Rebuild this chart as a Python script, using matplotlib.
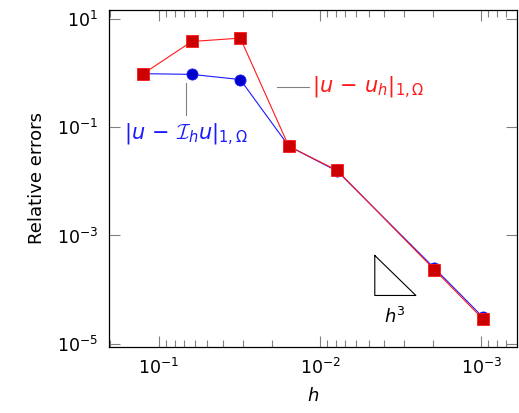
import matplotlib
matplotlib.use("Agg")
import matplotlib.pyplot as plt
from matplotlib.ticker import LogLocator, NullFormatter, FixedLocator
import numpy as np

plt.rcParams['font.family'] = ['DejaVu Sans']
plt.rcParams['mathtext.fontset'] = 'custom'
plt.rcParams['mathtext.rm'] = 'DejaVu Sans'
plt.rcParams['mathtext.it'] = 'DejaVu Sans:italic'
plt.rcParams['mathtext.bf'] = 'DejaVu Sans:bold'
plt.rcParams['mathtext.sf'] = 'DejaVu Sans'
plt.rcParams['mathtext.cal'] = 'cmsy10'

# mesh sizes and errors
h = [0.125, 0.0625, 0.03125, 0.015625, 0.0078125, 0.001953125, 0.0009765625]
err_interp = [0.99, 0.96, 0.77, 0.045, 0.0155, 2.5e-4, 3.1e-5]
err_fem = [0.99, 3.9, 4.5, 0.045, 0.016, 2.34e-4, 2.86e-5]

red_fill = '#cc0000'
red_line = '#ff1a1a'
blue_fill = '#0000cc'
blue_line = '#1a1aff'

fig = plt.figure(figsize=(5.19, 4.13), dpi=100)
ax = fig.add_axes([0.2106, 0.1598, 0.785, 0.816])

ax.plot(h, err_interp, '-o', color=blue_line, lw=0.8, ms=8,
        markerfacecolor=blue_fill, markeredgecolor=blue_line, markeredgewidth=0.6, zorder=3)
ax.plot(h, err_fem, '-s', color=red_line, lw=0.8, ms=8.5,
        markerfacecolor=red_fill, markeredgecolor=red_line, markeredgewidth=0.6, zorder=4)

ax.set_xscale('log')
ax.set_yscale('log')
ax.set_xlim(10**-0.692, 10**-3.221)
ax.set_ylim(10**-5.064, 10**1.174)

ax.yaxis.set_major_locator(FixedLocator([1e1, 1e-1, 1e-3, 1e-5]))
ax.yaxis.set_minor_locator(FixedLocator([]))
ax.xaxis.set_major_locator(LogLocator(base=10, numticks=10))
ax.xaxis.set_minor_locator(LogLocator(base=10, subs=np.arange(2, 10), numticks=20))
ax.xaxis.set_minor_formatter(NullFormatter())

ax.tick_params(which='both', direction='in', top=True, right=True,
               color='#808080', labelsize=12.5)
ax.tick_params(which='major', length=8, width=0.8, pad=8)
ax.tick_params(which='minor', length=5, width=0.8)
for s in ax.spines.values():
    s.set_linewidth(0.9)

ax.set_xlabel(r'$h$', fontsize=13, labelpad=6)
ax.set_ylabel('Relative errors', fontsize=13, labelpad=8)

# slope triangle
tx0, tx1 = 10**-2.34, 10**-2.595
ty0, ty1 = 10**-3.37, 10**-4.11
ax.plot([tx0, tx0, tx1, tx0], [ty0, ty1, ty1, ty0], color='black', lw=0.8)
ax.text(10**-2.465, 10**-4.5, r'$h^3$', fontsize=13, ha='center', va='center')

# curve labels with pins
ax.plot([10**-1.73, 10**-1.93], [10**-0.25, 10**-0.25], color='#808080', lw=0.8)
ax.text(10**-1.95, 10**-0.25, r'$|u\,-\,u_h|_{1,\Omega}$', color=red_line,
        fontsize=15, ha='left', va='center')
ax.plot([10**-1.17, 10**-1.17], [10**-0.17, 10**-0.77], color='#808080', lw=0.8)
ax.text(10**-1.17, 10**-1.13, r'$|u\,-\,\mathcal{I}_h u|_{1,\Omega}$', color=blue_line,
        fontsize=15, ha='center', va='center')

fig.savefig('out.png', dpi=100)
